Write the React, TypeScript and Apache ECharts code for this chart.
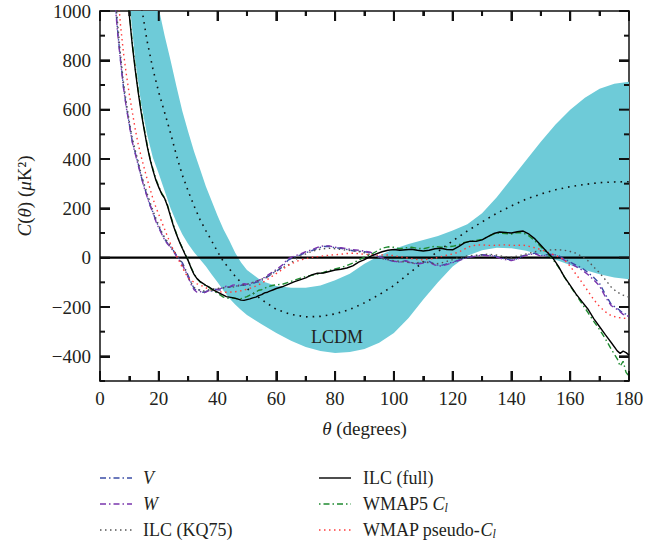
import React, { useEffect, useRef } from 'react';
import * as echarts from 'echarts';

const FONT = '"Liberation Serif", "DejaVu Serif", serif';
const TEXT = '#231f20';
const AXIS = '#111111';

const xMajorTicks = [0, 20, 40, 60, 80, 100, 120, 140, 160, 180];
const xMinorTicks = [10, 30, 50, 70, 90, 110, 130, 150, 170];
const yMajorTicks = [-400, -200, 0, 200, 400, 600, 800, 1000];
const yMinorTicks = [-500, -300, -100, 100, 300, 500, 700, 900];

// LCDM 1-sigma band
const bandTheta = [8, 10, 12, 14, 16, 18, 20, 22, 24, 26, 28, 30, 32, 34, 36, 38, 40, 42, 44, 46, 48, 50, 55, 60, 65, 70, 75, 80, 85, 90, 95, 100, 105, 110, 115, 120, 125, 130, 135, 140, 145, 150, 155, 160, 165, 170, 175, 180];
const bandLower = [1300, 1040, 800, 625, 500, 405, 340, 270, 200, 145, 95, 55, 22, -6, -35, -68, -100, -133, -165, -190, -212, -232, -270, -305, -337, -362, -378, -386, -382, -370, -345, -305, -245, -170, -100, -36, 8, 30, 40, 38, 28, 12, -8, -30, -50, -67, -80, -87];
const bandUpper = [2500, 2200, 1900, 1650, 1400, 1180, 1010, 900, 800, 695, 595, 510, 430, 360, 290, 230, 170, 115, 70, 20, -20, -50, -95, -115, -122, -122, -113, -92, -65, -25, 8, 35, 55, 72, 88, 110, 135, 180, 245, 320, 395, 470, 540, 600, 648, 685, 705, 713];

// LCDM mean (dotted, inside band)
const lcdmMean = [[12, 1220], [14, 1025], [16, 880], [18, 765], [20, 670], [22, 588], [24, 505], [26, 415], [28, 335], [30, 270], [32, 210], [34, 155], [36, 110], [38, 68], [40, 24], [42, -16], [44, -45], [46, -75], [48, -101], [50, -125], [55, -170], [60, -210], [65, -230], [70, -240], [75, -238], [80, -228], [85, -210], [90, -183], [95, -150], [100, -113], [105, -65], [110, -18], [115, 25], [120, 68], [125, 108], [130, 145], [135, 180], [140, 210], [145, 237], [150, 258], [155, 275], [160, 288], [165, 297], [170, 304], [175, 307], [180, 308]];

const zeroLine = [[0, 0], [180, 0]];

const vBand = [[4, 1250], [5, 1060], [6, 920], [7, 800], [8, 690], [9, 610], [10, 540], [11, 470], [12, 425], [13, 380], [14, 330], [15, 290], [16, 250], [17, 215], [18, 185], [19, 150], [20, 125], [21, 100], [22, 75], [23, 58], [24, 45], [25, 28], [26, 10], [27, -5], [28, -20], [29, -45], [30, -72], [31, -100], [32, -125], [33, -135], [34, -130], [35, -140], [36, -138], [37, -132], [38, -135], [39, -128], [40, -130], [41, -131], [42, -122], [43, -118], [44, -120], [45, -115], [46, -114], [47, -116], [48, -112], [49, -110], [50, -112], [51, -111], [52, -105], [53, -100], [54, -98], [55, -92], [56, -85], [57, -78], [58, -70], [59, -62], [60, -55], [62, -38], [64, -10], [66, 2], [68, 10], [70, 20], [72, 28], [74, 38], [76, 45], [78, 46], [80, 40], [82, 38], [84, 33], [86, 28], [88, 26], [90, 24], [92, 20], [94, 8], [96, -2], [98, -10], [100, -15], [102, -18], [104, -12], [106, -20], [108, -24], [110, -20], [112, -15], [114, -28], [116, -32], [118, -25], [120, -18], [122, -10], [124, -2], [126, 4], [128, 8], [130, 12], [132, 10], [134, 8], [136, 0], [138, -5], [140, -10], [142, -4], [144, 8], [146, 14], [148, 18], [150, 8], [152, 12], [154, 14], [156, 8], [158, -5], [160, -18], [162, -30], [164, -42], [166, -60], [168, -80], [170, -105], [172, -150], [174, -190], [176, -205], [178, -225], [180, -233]];

const wBand = [[4, 1240], [5, 1050], [6, 910], [7, 795], [8, 688], [9, 605], [10, 535], [11, 468], [12, 420], [13, 375], [14, 328], [15, 285], [16, 248], [17, 212], [18, 182], [19, 148], [20, 120], [21, 96], [22, 72], [23, 55], [24, 42], [25, 25], [26, 6], [27, -10], [28, -28], [29, -52], [30, -80], [31, -108], [32, -130], [33, -140], [34, -136], [35, -144], [36, -140], [37, -134], [38, -136], [39, -130], [40, -128], [41, -126], [42, -120], [43, -116], [44, -118], [45, -112], [46, -110], [47, -112], [48, -108], [49, -106], [50, -108], [51, -106], [52, -100], [53, -96], [54, -92], [55, -86], [56, -80], [57, -72], [58, -64], [59, -56], [60, -48], [62, -30], [64, -4], [66, 6], [68, 14], [70, 24], [72, 32], [74, 42], [76, 48], [78, 48], [80, 42], [82, 40], [84, 36], [86, 32], [88, 30], [90, 26], [92, 22], [94, 10], [96, 0], [98, -8], [100, -14], [102, -18], [104, -14], [106, -22], [108, -26], [110, -22], [112, -18], [114, -30], [116, -34], [118, -28], [120, -20], [122, -12], [124, -4], [126, 2], [128, 6], [130, 10], [132, 8], [134, 6], [136, -2], [138, -8], [140, -12], [142, -6], [144, 6], [146, 12], [148, 16], [150, 6], [152, 10], [154, 12], [156, 4], [158, -10], [160, -24], [162, -36], [164, -50], [166, -68], [168, -90], [170, -115], [172, -160], [174, -195], [176, -210], [178, -230], [180, -238]];

const ilcKQ75 = [[4, 1280], [5, 1090], [6, 950], [7, 820], [8, 710], [9, 625], [10, 550], [11, 485], [12, 435], [13, 390], [14, 340], [15, 300], [16, 262], [17, 225], [18, 192], [19, 160], [20, 132], [21, 105], [22, 82], [23, 64], [24, 48], [25, 30], [26, 12], [27, -5], [28, -25], [29, -50], [30, -78], [31, -102], [32, -120], [33, -128], [34, -132], [35, -135], [36, -134], [37, -130], [38, -128], [39, -126], [40, -125], [42, -122], [44, -120], [46, -118], [48, -112], [50, -108], [52, -100], [54, -92], [56, -82], [58, -68], [60, -52], [62, -42], [64, -30], [66, -12], [68, 5], [70, 15], [72, 25], [74, 32], [76, 36], [78, 38], [80, 36], [82, 33], [84, 30], [86, 28], [88, 25], [90, 20], [92, 12], [94, 4], [96, -4], [98, -8], [100, -12], [102, -15], [104, -18], [106, -22], [108, -20], [110, -16], [112, -20], [114, -25], [116, -22], [118, -15], [120, -8], [122, 0], [124, 5], [126, 8], [128, 10], [130, 12], [132, 14], [134, 12], [136, 8], [138, 4], [140, 2], [142, 6], [144, 12], [146, 18], [148, 24], [150, 28], [152, 30], [154, 32], [156, 32], [158, 30], [160, 25], [162, 18], [164, 5], [166, -12], [168, -38], [170, -62], [172, -90], [174, -120], [176, -140], [178, -152], [180, -160]];

const ilcFull = [[8, 1300], [9, 1130], [10, 980], [11, 860], [12, 760], [13, 670], [14, 590], [15, 520], [16, 455], [17, 400], [18, 355], [19, 315], [20, 285], [21, 258], [22, 240], [23, 208], [24, 168], [25, 128], [26, 95], [27, 65], [28, 38], [29, 12], [30, -12], [31, -42], [32, -68], [33, -85], [34, -96], [35, -104], [36, -112], [37, -118], [38, -126], [39, -134], [40, -140], [41, -146], [42, -152], [43, -158], [44, -160], [45, -162], [46, -165], [47, -168], [48, -172], [49, -173], [50, -170], [51, -167], [52, -163], [53, -160], [54, -154], [55, -150], [56, -143], [57, -140], [58, -135], [59, -130], [60, -125], [62, -118], [64, -108], [66, -98], [68, -90], [70, -82], [72, -70], [74, -63], [76, -62], [78, -56], [80, -50], [82, -47], [84, -42], [86, -33], [88, -18], [90, -8], [92, 5], [94, 15], [96, 24], [98, 30], [100, 33], [102, 30], [104, 32], [106, 34], [108, 30], [110, 27], [112, 30], [114, 36], [116, 38], [118, 33], [120, 32], [122, 45], [124, 60], [126, 67], [128, 66], [130, 72], [132, 85], [134, 98], [136, 104], [138, 102], [140, 100], [142, 105], [144, 108], [146, 95], [148, 76], [150, 50], [152, 24], [154, 0], [156, -35], [158, -78], [160, -112], [162, -148], [164, -178], [166, -208], [168, -247], [170, -280], [172, -313], [174, -345], [176, -378], [177, -388], [178, -379], [179, -385], [180, -395]];

const wmap5Cl = [[8, 1310], [9, 1140], [10, 990], [11, 870], [12, 770], [13, 680], [14, 600], [15, 528], [16, 462], [17, 405], [18, 360], [19, 320], [20, 288], [21, 262], [22, 242], [23, 212], [24, 172], [25, 132], [26, 98], [27, 66], [28, 40], [29, 14], [30, -10], [31, -40], [32, -66], [33, -84], [34, -98], [35, -106], [36, -114], [37, -120], [38, -130], [39, -138], [40, -144], [41, -152], [42, -160], [43, -163], [44, -165], [45, -163], [46, -164], [47, -168], [48, -166], [49, -162], [50, -158], [51, -152], [52, -147], [53, -140], [54, -132], [55, -130], [56, -124], [57, -118], [58, -115], [59, -112], [60, -110], [62, -108], [64, -100], [66, -92], [68, -84], [70, -76], [72, -72], [74, -66], [76, -60], [78, -52], [80, -46], [82, -40], [84, -32], [86, -22], [88, -10], [90, 2], [92, 12], [94, 25], [96, 38], [98, 44], [100, 42], [102, 36], [104, 40], [106, 42], [108, 38], [110, 36], [112, 42], [114, 46], [116, 42], [118, 44], [120, 46], [122, 52], [124, 62], [126, 66], [128, 70], [130, 74], [132, 86], [134, 96], [136, 100], [138, 98], [140, 96], [142, 102], [144, 100], [146, 88], [148, 68], [150, 44], [152, 20], [154, -5], [156, -38], [158, -78], [160, -115], [162, -150], [164, -186], [166, -222], [168, -258], [170, -292], [172, -330], [174, -372], [176, -410], [177, -440], [178, -420], [179, -465], [180, -480]];

const wmapPseudo = [[5, 1250], [6, 1080], [7, 940], [8, 830], [9, 740], [10, 660], [11, 590], [12, 520], [13, 460], [14, 410], [15, 365], [16, 320], [17, 280], [18, 240], [19, 205], [20, 175], [21, 145], [22, 115], [23, 85], [24, 56], [25, 30], [26, 8], [27, -15], [28, -40], [29, -62], [30, -80], [31, -92], [32, -100], [33, -106], [34, -110], [36, -122], [38, -132], [40, -138], [42, -140], [44, -140], [46, -138], [48, -134], [50, -128], [52, -120], [54, -110], [56, -96], [58, -80], [60, -64], [62, -48], [64, -32], [66, -20], [68, -10], [70, -4], [72, 1], [74, 4], [76, 7], [78, 10], [80, 12], [82, 14], [84, 17], [86, 18], [88, 16], [90, 14], [92, 12], [94, 10], [96, 11], [98, 11], [100, 8], [102, 4], [104, 0], [106, -4], [108, -8], [110, -9], [112, -6], [114, -2], [116, 4], [118, 10], [120, 15], [122, 22], [124, 35], [126, 46], [128, 51], [130, 52], [132, 50], [134, 50], [136, 51], [138, 52], [140, 50], [142, 50], [144, 51], [146, 46], [148, 40], [150, 33], [152, 24], [154, 14], [156, 4], [158, -8], [160, -35], [162, -68], [164, -100], [166, -135], [168, -170], [170, -198], [172, -220], [174, -236], [176, -242], [178, -245], [180, -248]];

const legendLeft = [
  { name: 'V', text: '{i|V}', color: '#3b4da6', dash: [6, 3, 1.5, 3] },
  { name: 'W', text: '{i|W}', color: '#7a36ad', dash: [6, 3, 1.5, 3] },
  { name: 'ILC (KQ75)', text: 'ILC (KQ75)', color: '#555555', dash: [1.5, 3.5] },
];
const legendRight = [
  { name: 'ILC (full)', text: 'ILC (full)', color: '#000000', dash: null },
  { name: 'WMAP5 Cl', text: 'WMAP5 {i|C}{s|l}', color: '#1f8a30', dash: [1.5, 3, 6, 3] },
  { name: 'WMAP pseudo-Cl', text: 'WMAP pseudo-{i|C}{s|l}', color: '#ff3b3b', dash: [1.5, 3.5] },
];

function lineSeries(name: string, data: number[][], color: string, dash: any, width = 1.4, z = 3) {
  return {
    type: 'line',
    name,
    data,
    xAxisIndex: 0,
    yAxisIndex: 0,
    showSymbol: false,
    symbol: 'none',
    smooth: false,
    z,
    lineStyle: { color, width, type: dash ? dash : 'solid' },
    silent: true,
  };
}

export default function App() {
  const ref = useRef<HTMLDivElement>(null);
  useEffect(() => {
    const chart = echarts.init(ref.current as HTMLDivElement, null, { renderer: 'svg' });
    const grid = { left: 100, right: 33, top: 11, bottom: 165 };
    const rich = {
      i: { fontStyle: 'italic', fontFamily: FONT, fontSize: 19, color: TEXT },
      n: { fontFamily: FONT, fontSize: 19, color: TEXT },
    };
    const legendRich = {
      i: { fontStyle: 'italic', fontFamily: FONT, fontSize: 18, fill: TEXT, lineHeight: 20 },
      s: { fontStyle: 'italic', fontFamily: FONT, fontSize: 12, fill: TEXT, lineHeight: 20, verticalAlign: 'bottom' },
    };
    const rowsY = [478, 504, 530];
    const graphics: any[] = [];
    legendLeft.forEach((it, k) => {
      graphics.push({
        type: 'line', shape: { x1: 100, y1: rowsY[k], x2: 132, y2: rowsY[k] },
        style: { stroke: it.color, lineWidth: 1.4, lineDash: it.dash || undefined },
      });
      graphics.push({
        type: 'text', x: 143, y: rowsY[k],
        style: { text: it.text, rich: legendRich, fontFamily: FONT, fontSize: 18, fill: TEXT, verticalAlign: 'middle', align: 'left' },
      });
    });
    legendRight.forEach((it, k) => {
      graphics.push({
        type: 'line', shape: { x1: 319, y1: rowsY[k], x2: 351, y2: rowsY[k] },
        style: { stroke: it.color, lineWidth: 1.4, lineDash: it.dash || undefined },
      });
      graphics.push({
        type: 'text', x: 363, y: rowsY[k],
        style: { text: it.text, rich: legendRich, fontFamily: FONT, fontSize: 18, fill: TEXT, verticalAlign: 'middle', align: 'left' },
      });
    });
    graphics.push({
      type: 'text', x: 337, y: 337, z: 10,
      style: { text: 'LCDM', fontFamily: FONT, fontSize: 18, fill: TEXT, align: 'center', verticalAlign: 'middle' },
    });

    const axisLine = { show: true, onZero: false, lineStyle: { color: AXIS, width: 1.5 } };
    const tickLine = { color: AXIS, width: 2 };
    const option: any = {
      animation: false,
      grid,
      xAxis: [
        {
          type: 'value', position: 'bottom', min: 0, max: 180, interval: 20,
          axisLine, splitLine: { show: false },
          axisTick: { show: true, inside: true, length: 10, lineStyle: tickLine },
          minorTick: { show: true, splitNumber: 2, length: 5, lineStyle: tickLine },
          axisLabel: { show: true, margin: 8, fontFamily: FONT, fontSize: 19, color: TEXT },
          name: '{i|θ} (degrees)', nameLocation: 'middle', nameGap: 38,
          nameTextStyle: { fontFamily: FONT, fontSize: 19, color: TEXT, rich },
        },
        {
          type: 'value', position: 'top', min: 0, max: 180, interval: 20,
          axisLine, splitLine: { show: false },
          axisTick: { show: true, inside: true, length: 10, lineStyle: tickLine },
          minorTick: { show: true, splitNumber: 2, length: 5, lineStyle: tickLine },
          axisLabel: { show: false },
        },
      ],
      yAxis: [
        {
          type: 'value', position: 'left', min: -500, max: 1000,
          axisLine, splitLine: { show: false },
          axisTick: { show: true, inside: true, length: 10, customValues: yMajorTicks, lineStyle: tickLine },
          axisLabel: {
            show: true, margin: 9, fontFamily: FONT, fontSize: 19, color: TEXT, customValues: yMajorTicks,
            formatter: (v: number) => (v < 0 ? '\u2212' + Math.abs(v) : String(v)),
          },
          name: '{i|C}({i|θ}) ({i|μ}K²)', nameLocation: 'middle', nameGap: 66,
          nameTextStyle: { fontFamily: FONT, fontSize: 19, color: TEXT, rich },
        },
        {
          type: 'value', position: 'right', min: -500, max: 1000,
          axisLine, splitLine: { show: false },
          axisTick: { show: true, inside: true, length: 10, customValues: yMajorTicks, lineStyle: tickLine },
          axisLabel: { show: false },
        },
      ],
      series: [
        {
          type: 'custom', name: 'LCDM', coordinateSystem: 'cartesian2d', xAxisIndex: 0, yAxisIndex: 0,
          data: [[90, 0]], clip: true, silent: true, z: 1,
          renderItem: (params: any, api: any) => {
            const pts: number[][] = [];
            for (let k = 0; k < bandTheta.length; k++) pts.push(api.coord([bandTheta[k], bandUpper[k]]));
            for (let k = bandTheta.length - 1; k >= 0; k--) pts.push(api.coord([bandTheta[k], bandLower[k]]));
            return { type: 'polygon', shape: { points: pts, smooth: 0 }, style: { fill: '#6ecbd8', stroke: 'none' } };
          },
        },
        lineSeries('LCDM mean', lcdmMean, '#111111', [1.6, 5], 1.6, 2),
        lineSeries('zero', zeroLine, '#000000', null, 2.2, 2),
        lineSeries('V', vBand, legendLeft[0].color, legendLeft[0].dash),
        lineSeries('W', wBand, legendLeft[1].color, legendLeft[1].dash),
        lineSeries('ILC (KQ75)', ilcKQ75, legendLeft[2].color, legendLeft[2].dash),
        lineSeries('WMAP pseudo-Cl', wmapPseudo, legendRight[2].color, legendRight[2].dash),
        lineSeries('WMAP5 Cl', wmap5Cl, legendRight[1].color, legendRight[1].dash),
        lineSeries('ILC (full)', ilcFull, '#000000', null, 1.4, 4),
      ],
      graphic: graphics,
    };
    chart.setOption(option);

    // extra tick marks (all four sides) positioned through the chart's own scales
    const toPx = (x: number, y: number) => chart.convertToPixel({ gridIndex: 0 }, [x, y]) as number[];
    const yTop = toPx(0, 1000)[1];
    const yBot = toPx(0, -500)[1];
    const xLeft = toPx(0, 0)[0];
    const xRight = toPx(180, 0)[0];
    const tickStyle = { stroke: AXIS, lineWidth: 2 };
    const ticks: any[] = [];
    const addX = (v: number, len: number) => {
      const x = toPx(v, 0)[0];
      ticks.push({ type: 'line', z: 20, silent: true, shape: { x1: x, y1: yBot, x2: x, y2: yBot - len }, style: tickStyle });
      ticks.push({ type: 'line', z: 20, silent: true, shape: { x1: x, y1: yTop, x2: x, y2: yTop + len }, style: tickStyle });
    };
    const addY = (v: number, len: number) => {
      const y = toPx(0, v)[1];
      ticks.push({ type: 'line', z: 20, silent: true, shape: { x1: xLeft, y1: y, x2: xLeft + len, y2: y }, style: tickStyle });
      ticks.push({ type: 'line', z: 20, silent: true, shape: { x1: xRight, y1: y, x2: xRight - len, y2: y }, style: tickStyle });
    };
    if ([yTop, yBot, xLeft, xRight].every((v) => Number.isFinite(v))) {
      xMajorTicks.forEach((v) => addX(v, 10));
      xMinorTicks.forEach((v) => addX(v, 5));
      yMajorTicks.forEach((v) => addY(v, 10));
      yMinorTicks.forEach((v) => addY(v, 5));
      chart.setOption({ graphic: graphics.concat(ticks) });
    }

    return () => chart.dispose();
  }, []);
  return <div ref={ref} style={{ position: 'absolute', left: 0, top: 0, width: 662, height: 546, background: '#ffffff' }} />;
}
